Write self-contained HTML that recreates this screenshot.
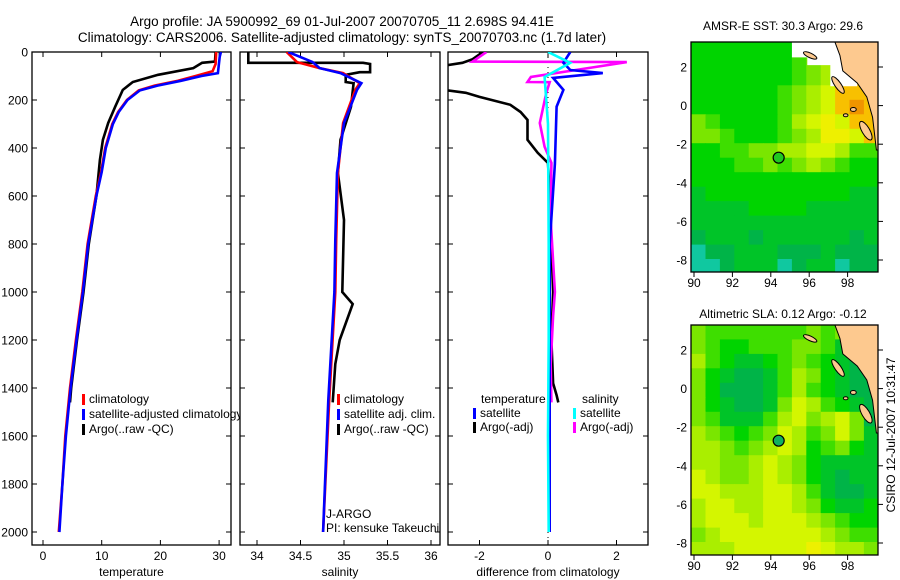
<!DOCTYPE html>
<html><head><meta charset="utf-8"><style>
html,body{margin:0;padding:0;background:#fff;}
svg{display:block;font-family:"Liberation Sans",sans-serif;}
</style></head><body>
<svg id="chart" width="900" height="580" viewBox="0 0 900 580" xmlns="http://www.w3.org/2000/svg">
<defs>
<clipPath id="c1"><rect x="32" y="52" width="199" height="493"/></clipPath>
<clipPath id="c2"><rect x="240" y="52" width="200" height="493"/></clipPath>
<clipPath id="c3"><rect x="448" y="52" width="200" height="493"/></clipPath>
<clipPath id="cm1"><rect x="691" y="42" width="187" height="230"/></clipPath>
<clipPath id="cm2"><rect x="691" y="325" width="187" height="230"/></clipPath>
</defs>
<text x="342" y="26" font-size="13.5" text-anchor="middle">Argo profile: JA 5900992_69 01-Jul-2007 20070705_11 2.698S 94.41E</text>
<text x="342" y="42" font-size="13.5" text-anchor="middle">Climatology: CARS2006. Satellite-adjusted climatology: synTS_20070703.nc (1.7d later)</text>
<g id="p1"></g>
<g id="p2"></g>
<g id="p3"></g>
<g id="m1"></g>
<g id="m2"></g>
<text x="783" y="30" font-size="12" text-anchor="middle">AMSR-E SST: 30.3  Argo: 29.6</text>
<text x="783" y="318" font-size="12" text-anchor="middle">Altimetric SLA: 0.12  Argo: -0.12</text>
<text transform="translate(895,435) rotate(-90)" font-size="12" text-anchor="middle">CSIRO 12-Jul-2007 10:31:47</text>
</svg>
<script>
// ---- profile data ----
const tClimDepth=[0,50,80,100,120,140,160,200,250,300,400,500,600,800,1000,1200,1400,1600,1800,2000];
const tClimVal=[29.5,29.4,28.9,26,23,19,16.3,14.3,12.8,11.8,10.6,9.9,9.0,7.6,6.7,5.6,4.6,3.8,3.3,2.7];
const tSatDepth=[0,20,88,100,120,140,160,200,250,300,400,500,600,800,1000,1200,1400,1600,1800,2000];
const tSatVal=[30.3,30.1,29.8,27,23.5,19.5,16.5,14.4,12.9,11.9,10.7,10.0,9.1,7.7,6.8,5.7,4.7,3.9,3.3,2.8];
const tArgoDepth=[0,40,45,67,95,125,158,228,296,366,450,600,800,1000,1200,1400,1460];
const tArgoVal=[29.4,29.3,27.1,25.6,19.6,15.3,13.6,12.3,11.1,10.2,9.7,9.1,7.8,6.9,5.8,4.8,4.6];
const sClimDepth=[0,42,67,88,130,158,296,504,783,1000,1450,2000];
const sClimVal=[34.34,34.46,34.72,34.99,35.18,35.13,34.99,34.93,34.91,34.9,34.83,34.76];
const sSatDepth=[0,42,67,88,130,158,296,504,783,1000,1450,2000];
const sSatVal=[34.36,34.64,34.72,34.96,35.2,35.15,35.0,34.92,34.9,34.89,34.82,34.76];
const sArgoDepth=[0,45,45,50,84,84,95,125,130,228,366,504,700,1000,1050,1200,1300,1460];
const sArgoVal=[33.9,33.9,35.22,35.3,35.3,35.18,35.02,35.02,35.11,35.08,34.96,34.93,35.0,34.98,35.1,34.95,34.9,34.87];
const dTArgoDepth=[0,30,45,55,160,170,187,220,250,283,366,420,462,600,800,1000,1200,1380,1430,1460];
const dTArgoVal=[-1.9,-2.2,-2.5,-2.94,-2.94,-2.4,-2.0,-1.1,-0.8,-0.6,-0.6,-0.3,0,0.05,0.1,0.15,0.1,0.15,0.25,0.3];
const dSArgoDepth=[0,40,42,104,125,126,170,296,395,462,700,1000,1100,1300,1460];
const dSArgoVal=[-1.8,-2.2,2.3,-0.5,-0.6,0.05,-0.05,-0.24,-0.1,0.1,0.08,0.2,0.15,0.08,0.1];
const dTSatDepth=[0,45,75,88,108,158,228,466,800,1200,1600,2000];
const dTSatVal=[0.65,0.45,0.65,1.6,0.15,0.45,0.25,0.2,0.05,0.05,0.05,0.05];
const dSSatDepth=[0,45,104,300,800,1200,1600,2000];
const dSSatVal=[0,0.65,-0.1,0,0.02,0.02,0.0,0.02];

// ---- map data (lon 89.85..99.6, lat 3.3..-8.7, 0.75 deg cells) ----
const sstGrid=["ddddddddddddd","dddddddefgggg","dddddddefggjj","ddddddefghjjj","ddddddefghjkj","feddddeghihjj","ffedddefgiihj","ddeeffgghhgee","dddeefefgfedd","ddddddddddddd","cddddddddddcc","ccccddddccccc","ccccccccccccc","bcccbccccccbc","abbcccbbbcbbb","aabcccabccabb"];
const slaGrid=["feeeeeeefefdd","feddeeeffecdd","gedccdefedcbb","fdcbbcegfdcbb","fdbbbcegedcbb","fdcbbcfhgedcb","feccceghfghfb","gfedefhgefhfc","ggfefghgdefdc","ggffghgfdcccc","hgffghgfdcbcc","hhggghhgecbbc","ghhgghhgfdccd","ghhhghhhgfedd","fghhhhhhhgfee","ggghhhhhihggf"];
const palette={a:"#10c8a0",b:"#00b448",c:"#00c428",d:"#00d400",e:"#3ede00",f:"#7ae600",g:"#aaee00",h:"#d4f600",i:"#eef000",j:"#f8c000",k:"#f09400",w:"#ffffff",L:"#fdc98f"};
const argoLon=94.41, argoLat=-2.698;

const NS="http://www.w3.org/2000/svg";
const svg=document.getElementById('chart');
function mk(tag,attrs,parent){const e=document.createElementNS(NS,tag);for(const k in attrs)e.setAttribute(k,attrs[k]);(parent||svg).appendChild(e);return e;}
const yD=d=>52+d*0.24;
const xT=t=>43+5.87*t;
const xS=s=>257+87*(s-34);
const xDf=v=>548+34.25*v;

function frame(g,x0,w,xticks,xfun,labels,xlabel,showY){
  mk('rect',{x:x0,y:52,width:w,height:493,fill:'#fff',stroke:'#000','stroke-width':1.3},g);
  const yt=[0,200,400,600,800,1000,1200,1400,1600,1800,2000];
  yt.forEach(d=>{
    const y=yD(d);
    const a=mk('line',{x1:x0,x2:x0+5,y1:y,y2:y,stroke:'#000'},g);
    
    
    mk('line',{x1:x0+w-5,x2:x0+w,y1:y,y2:y,stroke:'#000'},g);
    if(showY){const t=mk('text',{x:28,y:y+4.5,'font-size':12,'text-anchor':'end'},g);t.textContent=d;
      
      }
  });
  xticks.forEach((v,i)=>{
    const x=xfun(v);
    mk('line',{x1:x,x2:x,y1:545,y2:540,stroke:'#000'},g);
    mk('line',{x1:x,x2:x,y1:52,y2:57,stroke:'#000'},g);
    const t=mk('text',{x:x,y:560,'font-size':12,'text-anchor':'middle'},g);t.textContent=labels[i];
    
    
  });
  const xl=mk('text',{x:x0+w/2,y:576,'font-size':12,'text-anchor':'middle'},g);xl.textContent=xlabel;
  
  
}
function line(g,depths,vals,xf,color,clip,name){
  const pts=depths.map((d,i)=>xf(vals[i]).toFixed(1)+','+yD(d).toFixed(1)).join(' ');
  const p=mk('polyline',{points:pts,fill:'none',stroke:color,'stroke-width':2.6,'clip-path':'url(#'+clip+')','stroke-linejoin':'miter'},g);
  
  
}
function legend(g,x,y,color,label,name){
  mk('rect',{x:x,y:y-9,width:3,height:11,fill:color},g);
  const t=mk('text',{x:x+7,y:y,'font-size':12},g);t.textContent=label;
  
  
}
const p1=document.getElementById('p1'),p2=document.getElementById('p2'),p3=document.getElementById('p3');
frame(p1,32,199,[0,10,20,30],xT,['0','10','20','30'],'temperature',true);
line(p1,tArgoDepth,tArgoVal,xT,'#000','c1','argo-temperature-line');
line(p1,tClimDepth,tClimVal,xT,'#f00','c1','climatology-temperature-line');
line(p1,tSatDepth,tSatVal,xT,'#00f','c1','satellite-temperature-line');
legend(p1,82,403,'#f00','climatology','legend-climatology');
legend(p1,82,418,'#00f','satellite-adjusted climatology','legend-satellite');
legend(p1,82,433,'#000','Argo(..raw -QC)','legend-argo');

frame(p2,240,200,[34,34.5,35,35.5,36],xS,['34','34.5','35','35.5','36'],'salinity',false);
line(p2,sArgoDepth,sArgoVal,xS,'#000','c2','argo-salinity-line');
line(p2,sClimDepth,sClimVal,xS,'#f00','c2','climatology-salinity-line');
line(p2,sSatDepth,sSatVal,xS,'#00f','c2','satellite-salinity-line');
legend(p2,337,403,'#f00','climatology','legend-climatology-sal');
legend(p2,337,418,'#00f','satellite adj. clim.','legend-satellite-sal');
legend(p2,337,433,'#000','Argo(..raw -QC)','legend-argo-sal');
const ja=mk('text',{x:326,y:518,'font-size':12},p2);ja.textContent='J-ARGO';


const pi=mk('text',{x:326,y:532,'font-size':12},p2);pi.textContent='PI: kensuke Takeuchi';



frame(p3,448,200,[-2,0,2],xDf,['-2','0','2'],'difference from climatology',false);
mk('line',{x1:xDf(0),x2:xDf(0),y1:52,y2:545,stroke:'#000','stroke-dasharray':'1,4'},p3);
line(p3,dTArgoDepth,dTArgoVal,xDf,'#000','c3','argo-temp-diff-line');
line(p3,dSArgoDepth,dSArgoVal,xDf,'#f0f','c3','argo-sal-diff-line');
line(p3,dTSatDepth,dTSatVal,xDf,'#00f','c3','satellite-temp-diff-line');
line(p3,dSSatDepth,dSSatVal,xDf,'#0ff','c3','satellite-sal-diff-line');
const th=mk('text',{x:481,y:403,'font-size':12},p3);th.textContent='temperature';


const sh=mk('text',{x:582,y:403,'font-size':12},p3);sh.textContent='salinity';


legend(p3,473,417,'#00f','satellite','legend-temp-satellite');
legend(p3,473,431,'#000','Argo(-adj)','legend-temp-argo');
legend(p3,573,417,'#0ff','satellite','legend-sal-satellite');
legend(p3,573,431,'#f0f','Argo(-adj)','legend-sal-argo');

// ---- maps ----
function drawMap(g,top,grid,clip,nameP,withWhite){
  const xL=lon=>694+19.2*(lon-90);
  const yL=lat=>top+25+19.3*(2-lat);
  const cg=mk('g',{'clip-path':'url(#'+clip+')'},g);
  grid.forEach((row,j)=>{
    for(let i=0;i<row.length;i++){
      const lon0=89.85+0.75*i, lat0=3.3-0.75*j;
      const r=mk('rect',{x:xL(lon0).toFixed(1),y:yL(lat0).toFixed(1),width:14.9,height:15,fill:palette[row[i]]},cg);
      
      
    }
  });
  if(withWhite){
    const wp=[[95.1,3.4],[95.1,2.5],[95.9,2.5],[95.9,2.1],[97.1,2.1],[97.1,1.0],[98.5,1.0],[98.5,3.4]];
    const w=mk('polygon',{points:wp.map(p=>xL(p[0])+','+yL(p[1])).join(' '),fill:'#fff'},cg);
    
    
  }
  const land=[[97.3,3.4],[97.6,2.6],[97.75,1.8],[98.5,1.17],[99.0,0.45],[99.3,-0.6],[99.5,-2.3],[99.7,-2.3],[99.7,3.4]];
  const lp=mk('polygon',{points:land.map(p=>xL(p[0])+','+yL(p[1])).join(' '),fill:palette.L,stroke:'#000','stroke-width':1},cg);
  
  
  const isl=[[96.05,2.6,0.38,0.12,25],[97.5,1.07,0.52,0.16,55],[98.95,-1.3,0.55,0.2,60],[98.3,-0.2,0.15,0.1,0],[97.9,-0.5,0.12,0.08,0]];
  isl.forEach(s=>{
    const e=mk('ellipse',{cx:xL(s[0]),cy:yL(s[1]),rx:s[2]*19.2,ry:s[3]*19.2,fill:palette.L,stroke:'#000','stroke-width':1,transform:'rotate('+s[4]+' '+xL(s[0])+' '+yL(s[1])+')'},cg);
    
    
  });
  mk('rect',{x:691,y:top,width:187,height:230,fill:'none',stroke:'#000','stroke-width':1.3},g);
  [90,92,94,96,98].forEach(v=>{
    const x=xL(v);
    mk('line',{x1:x,x2:x,y1:top+230,y2:top+235,stroke:'#000'},g);
    const t=mk('text',{x:x,y:top+245,'font-size':12,'text-anchor':'middle'},g);t.textContent=v;
    
    
  });
  [2,0,-2,-4,-6,-8].forEach(v=>{
    const y=yL(v);
    mk('line',{x1:878,x2:883,y1:y,y2:y,stroke:'#000'},g);
    const t=mk('text',{x:687,y:y+4.5,'font-size':12,'text-anchor':'end'},g);t.textContent=v;
    
    
  });
  const c=mk('circle',{cx:xL(argoLon),cy:yL(argoLat),r:5.5,fill:nameP==='sla'?'#10b060':'#20c820',stroke:'#000','stroke-width':1.2},g);
  
  
}
drawMap(document.getElementById('m1'),42,sstGrid,'cm1','sst',true);
drawMap(document.getElementById('m2'),325,slaGrid,'cm2','sla',false);
</script>
</body></html>
